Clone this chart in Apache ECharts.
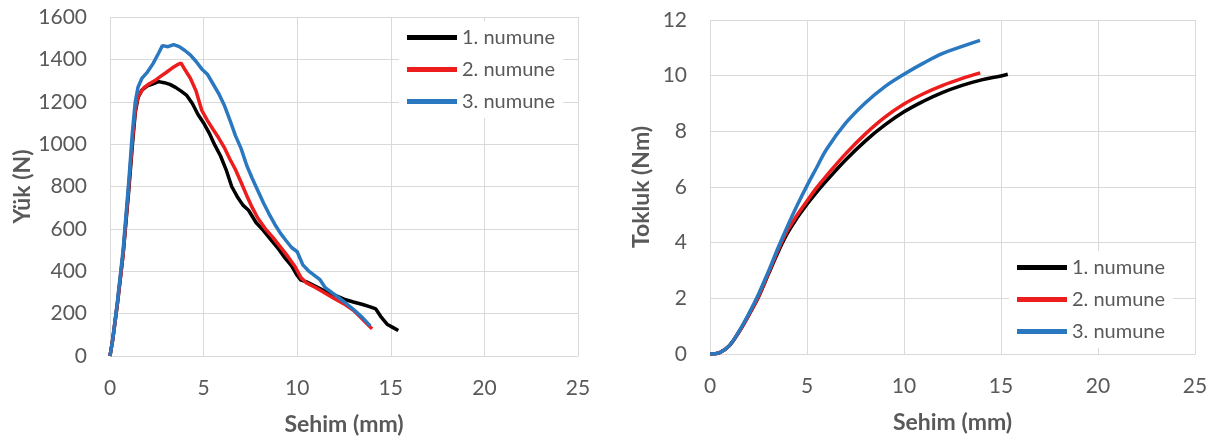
<!DOCTYPE html>
<html>
<head>
<meta charset="utf-8">
<script src="https://cdn.jsdelivr.net/npm/echarts@6/dist/echarts.min.js"></script>
<style>
  html, body { margin: 0; padding: 0; background: #fff; }
  #main { width: 1212px; height: 444px; }
</style>
</head>
<body>
<div id="main"></div>
<script>
// series names
var names = ['1. numune', '2. numune', '3. numune'];
var colors = ['#000000', '#ee1d1d', '#2a78c0'];

// Yük (N) vs Sehim (mm) — [sehim, yük]
var load1 = [[0,0],[0.15,80],[0.4,250],[0.7,480],[1.0,780],[1.2,1000],[1.35,1150],[1.5,1220],[1.7,1255],[2.0,1275],[2.3,1285],[2.6,1295],[2.9,1290],[3.2,1282],[3.5,1268],[3.8,1250],[4.1,1230],[4.4,1192],[4.7,1140],[5.0,1100],[5.3,1052],[5.6,995],[5.9,945],[6.2,880],[6.5,800],[6.8,752],[7.1,712],[7.4,688],[7.8,630],[8.2,592],[8.6,548],[9.0,505],[9.3,468],[9.7,425],[10.0,380],[10.2,358],[10.5,350],[11.0,328],[11.5,305],[12.0,287],[12.5,268],[13.0,255],[13.5,243],[13.9,232],[14.2,222],[14.5,182],[14.8,150],[15.1,135],[15.4,120]];
var load2 = [[0,0],[0.15,80],[0.4,250],[0.7,480],[1.0,800],[1.2,1020],[1.35,1160],[1.5,1225],[1.8,1265],[2.1,1285],[2.4,1300],[2.7,1320],[3.0,1338],[3.3,1358],[3.6,1375],[3.8,1382],[4.0,1352],[4.3,1310],[4.6,1250],[4.9,1160],[5.2,1112],[5.5,1070],[5.8,1030],[6.1,985],[6.4,930],[6.7,880],[7.0,820],[7.3,758],[7.6,700],[7.9,650],[8.3,600],[8.7,560],[9.1,515],[9.5,470],[9.9,420],[10.2,370],[10.5,345],[11.0,322],[11.5,296],[12.0,270],[12.5,246],[13.0,216],[13.4,182],[13.7,155],[14.0,128]];
var load3 = [[0,0],[0.15,80],[0.4,260],[0.7,500],[1.0,820],[1.2,1060],[1.35,1200],[1.5,1270],[1.7,1310],[2.0,1340],[2.3,1380],[2.6,1430],[2.8,1465],[3.1,1460],[3.4,1470],[3.7,1460],[4.0,1442],[4.3,1420],[4.6,1390],[4.9,1355],[5.2,1330],[5.5,1285],[5.8,1240],[6.1,1185],[6.4,1115],[6.7,1040],[7.0,980],[7.3,900],[7.6,838],[7.9,780],[8.2,722],[8.5,670],[8.8,622],[9.1,580],[9.4,545],[9.7,512],[10.0,492],[10.3,430],[10.6,402],[10.9,382],[11.2,362],[11.5,322],[12.0,290],[12.5,256],[13.0,220],[13.5,180],[13.9,142]];

// Tokluk (Nm) vs Sehim (mm) — [sehim, tokluk]
var tough1 = [[0,0],[0.5,0.05],[1,0.3],[1.5,0.8],[2,1.4],[2.5,2.05],[3,2.85],[3.5,3.65],[4,4.35],[4.5,4.9],[5,5.38],[5.5,5.82],[6,6.22],[7,6.98],[8,7.65],[9,8.22],[10,8.7],[11,9.08],[12,9.4],[13,9.65],[14,9.85],[15,9.99],[15.35,10.05]];
var tough2 = [[0,0],[0.5,0.05],[1,0.3],[1.5,0.8],[2,1.4],[2.5,2.07],[3,2.88],[3.5,3.72],[4,4.45],[4.5,5.0],[5,5.5],[5.5,5.98],[6,6.4],[7,7.2],[8,7.9],[9,8.5],[10,8.98],[11,9.35],[12,9.65],[13,9.9],[13.93,10.1]];
var tough3 = [[0,0],[0.5,0.05],[1,0.3],[1.5,0.82],[2,1.45],[2.5,2.15],[3,2.95],[3.5,3.8],[4,4.6],[4.5,5.35],[5,6.05],[5.5,6.7],[6,7.35],[7,8.3],[8,9.02],[9,9.6],[10,10.05],[11,10.45],[12,10.8],[13,11.05],[13.92,11.27]];

var loads = [load1, load2, load3];
var toughs = [tough1, tough2, tough3];

var font = 'Lato, "Open Sans", sans-serif';
var gridColor = '#d9d9d9';
var textColor = '#595959';
var plain = function (v) { return String(v); };

function xAxisFor(idx) {
  return {
    type: 'value', gridIndex: idx, min: 0, max: 25, interval: 5,
    name: 'Sehim (mm)', nameLocation: 'middle', nameGap: 57,
    nameTextStyle: { fontFamily: font, fontSize: 23, fontWeight: 'bold', color: textColor },
    axisLine: { show: true, lineStyle: { color: gridColor } },
    axisTick: { show: false },
    axisLabel: { fontFamily: font, fontSize: 21, color: textColor, margin: 22, formatter: plain },
    splitLine: { show: true, lineStyle: { color: gridColor } }
  };
}

function yAxisFor(idx, max, interval, name, gap) {
  return {
    type: 'value', gridIndex: idx, min: 0, max: max, interval: interval,
    name: name, nameLocation: 'middle', nameGap: gap,
    nameTextStyle: { fontFamily: font, fontSize: 23, fontWeight: 'bold', color: textColor },
    axisLine: { show: false },
    axisTick: { show: false },
    axisLabel: { fontFamily: font, fontSize: 21, color: textColor, margin: 23, formatter: plain },
    splitLine: { show: true, lineStyle: { color: gridColor } }
  };
}

function legendAt(left, top) {
  return {
    data: names, orient: 'vertical', left: left, top: top,
    icon: 'rect', itemWidth: 50, itemHeight: 5, itemGap: 11,
    backgroundColor: '#ffffff', padding: [6, 8],
    textStyle: { fontFamily: font, fontSize: 20, color: textColor, lineHeight: 21 }
  };
}

var series = [];
names.forEach(function (n, i) {
  series.push({
    name: n, type: 'line', xAxisIndex: 0, yAxisIndex: 0, data: loads[i],
    showSymbol: false, smooth: false,
    lineStyle: { color: colors[i], width: 3.5 }, itemStyle: { color: colors[i] }
  });
});
names.forEach(function (n, i) {
  series.push({
    name: n, type: 'line', xAxisIndex: 1, yAxisIndex: 1, data: toughs[i],
    showSymbol: false, smooth: 0.4,
    lineStyle: { color: colors[i], width: 3.5 }, itemStyle: { color: colors[i] }
  });
});

var chart = echarts.init(document.getElementById('main'), null, { renderer: 'canvas' });
chart.setOption({
  animation: false,
  backgroundColor: '#ffffff',
  grid: [
    { left: 110, right: 634, top: 17, bottom: 88 },
    { left: 710, right: 17, top: 20, bottom: 90 }
  ],
  legend: [legendAt(399, 21), legendAt(1009, 251)],
  xAxis: [xAxisFor(0), xAxisFor(1)],
  yAxis: [
    yAxisFor(0, 1600, 200, 'Yük (N)', 75),
    yAxisFor(1, 12, 2, 'Tokluk (Nm)', 57)
  ],
  series: series
});
</script>
</body>
</html>
